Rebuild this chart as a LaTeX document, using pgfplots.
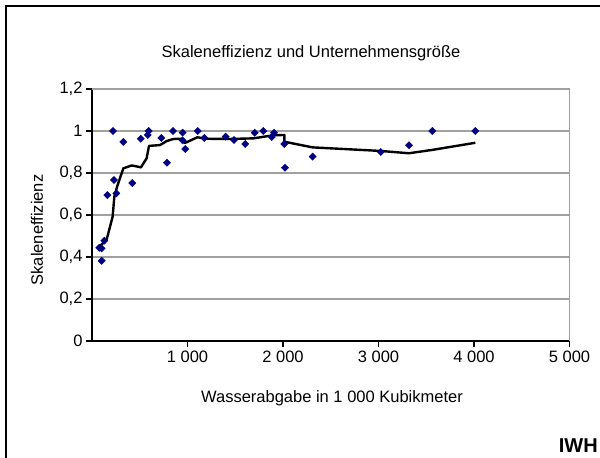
\documentclass[border=0pt]{standalone}
\usepackage{fontspec}
\setmainfont{Liberation Sans}
\usepackage{pgfplots}
\pgfplotsset{compat=1.18}
\definecolor{navy}{HTML}{000080}
\definecolor{gridgray}{HTML}{A0A0A0}
\pgfplotstableread{
x y
77 0.444
101 0.441
101 0.382
129 0.478
161 0.695
220 1.000
230 0.767
255 0.703
328 0.948
422 0.752
510 0.963
583 0.981
593 1.000
726 0.967
785 0.849
848 1.000
949 0.992
949 0.955
977 0.914
1107 1.000
1176 0.967
1400 0.973
1487 0.957
1605 0.938
1704 0.992
1794 1.000
1882 0.971
1906 0.992
2014 0.938
2021 0.825
2311 0.878
3023 0.900
3319 0.932
3564 1.000
4014 1.000
}\scatterdata
\pgfplotstableread{
x y
77 0.449
154 0.484
216 0.592
234 0.687
265 0.738
328 0.822
415 0.836
513 0.827
572 0.870
597 0.929
712 0.933
782 0.952
852 0.962
939 0.963
974 0.943
1103 0.970
1201 0.963
1445 0.962
1690 0.965
1902 0.980
2014 0.981
2014 0.949
2311 0.922
3023 0.905
3319 0.894
3564 0.910
4014 0.944
}\linedata
\begin{document}
\begin{tikzpicture}[x=1pt,y=1pt]
\useasboundingbox (0,0) rectangle (600,458);
\clip (0,0) rectangle (600,458);
\draw[line width=2pt] (6,-5) -- (6,452) -- (605,452);
\node[font=\fontsize{16.5}{19}\selectfont] at (311,405) {Skaleneffizienz und Unternehmensgröße};
\node[font=\fontsize{16.5}{19}\selectfont, rotate=90] at (37,228) {Skaleneffizienz};
\node[font=\fontsize{16.5}{19}\selectfont] at (332,60) {Wasserabgabe in 1 000 Kubikmeter};
\node[font=\fontsize{20}{24}\bfseries\selectfont, anchor=north east, inner sep=0pt] at (598,19) {IWH};
\begin{axis}[
  at={(92pt,117pt)}, anchor=south west,
  scale only axis, width=477.5pt, height=252pt,
  xmin=0, xmax=5000, ymin=0, ymax=1.2,
  axis x line*=bottom, axis y line*=left,
  axis line style={line width=1.6pt, black, -},
  tick align=outside, major tick length=6pt,
  tick style={line width=1.2pt, black},
  xtick={1000,2000,3000,4000,5000},
  xticklabels={1 000,2 000,3 000,4 000,5 000},
  ytick={0,0.2,0.4,0.6,0.8,1,1.2},
  yticklabels={0,{0,2},{0,4},{0,6},{0,8},1,{1,2}},
  ticklabel style={font=\fontsize{16.5}{19}\selectfont},
  /pgf/number format/assume math mode=true,
  ymajorgrids, grid style={line width=1.5pt, gridgray},
  clip=false,
]
\addplot[only marks, mark=square*, mark size=2.6pt, mark options={fill=navy, draw=navy, line width=0.3pt, rotate=45}] table[x=x,y=y] {\scatterdata};
\addplot[black, line width=2.4pt, no marks, line join=round] table[x=x,y=y] {\linedata};
\draw[gridgray, line width=1.2pt] (rel axis cs:0,1) -- (rel axis cs:1,1) -- (rel axis cs:1,0);
\end{axis}
\end{tikzpicture}
\end{document}
